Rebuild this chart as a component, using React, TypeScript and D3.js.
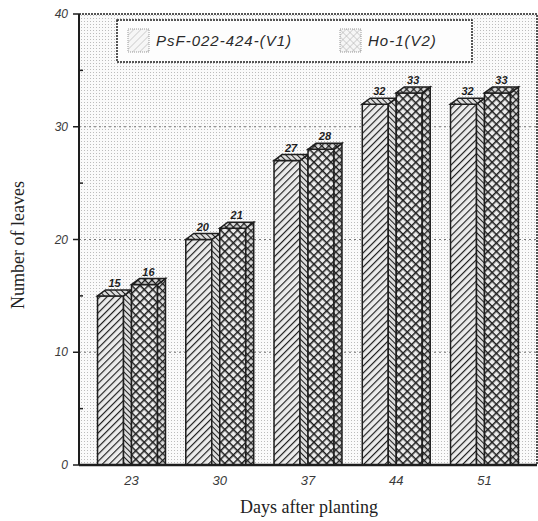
import { useEffect, useRef } from "react"
import * as d3 from "d3"

const days = ["23", "30", "37", "44", "51"]
const v1Values = [15, 20, 27, 32, 32]
const v2Values = [16, 21, 28, 33, 33]
const seriesNames = ["PsF-022-424-(V1)", "Ho-1(V2)"]
const yTicks = [0, 10, 20, 30, 40]
const minorTicks = [5, 15, 25, 35]
const gridTicks = [10, 20, 30]

const width = 538
const height = 521
const margin = { top: 14, right: 1, bottom: 56, left: 79 }

export default function App() {
  const svgRef = useRef<SVGSVGElement | null>(null)

  useEffect(() => {
    if (!svgRef.current) return
    const svg = d3.select(svgRef.current)
    svg.selectAll("*").remove()
    svg.attr("width", width).attr("height", height).attr("viewBox", `0 0 ${width} ${height}`)

    const ink = "#1e1e1e"
    const defs = svg.append("defs")

    // stipple background of the plot area
    const bg = defs.append("pattern").attr("id", "bg").attr("width", 3).attr("height", 3)
      .attr("patternUnits", "userSpaceOnUse")
    bg.append("rect").attr("width", 3).attr("height", 3).attr("fill", "#fafafa")
    bg.append("rect").attr("width", 1).attr("height", 1).attr("fill", "#bcbcbc")

    const hatch = (id: string, angle: number, size: number, stroke: string, sw: number, cross: boolean, fill: string) => {
      const p = defs.append("pattern").attr("id", id).attr("width", size).attr("height", size)
        .attr("patternUnits", "userSpaceOnUse").attr("patternTransform", `rotate(${angle})`)
      p.append("rect").attr("width", size).attr("height", size).attr("fill", fill)
      p.append("line").attr("x1", 0).attr("y1", 0).attr("x2", 0).attr("y2", size)
        .attr("stroke", stroke).attr("stroke-width", sw)
      if (cross) {
        p.append("line").attr("x1", 0).attr("y1", 0).attr("x2", size).attr("y2", 0)
          .attr("stroke", stroke).attr("stroke-width", sw)
      }
    }
    hatch("v1f", 45, 5, ink, 2.3, false, "#ececec")
    hatch("v1s", -45, 4, ink, 2, false, "#dddddd")
    hatch("v2f", 45, 6, ink, 3, true, "#ececec")
    hatch("v2s", 45, 5, ink, 2.6, true, "#dddddd")
    hatch("v1l", 45, 5, "#b0b0b0", 1, false, "#f6f6f6")
    hatch("v2l", 45, 5, "#b0b0b0", 1, true, "#f6f6f6")

    const x = d3.scaleBand<string>().domain(days)
      .range([margin.left, width - margin.right]).paddingInner(0.23).paddingOuter(0.21)
    const depth = 8
    const dy = 6
    const inner = d3.scaleBand<string>().domain(["V1", "V2"]).range([0, x.bandwidth()])
    const frontW = inner.bandwidth() - depth

    const y = d3.scaleLinear().domain([0, 40]).range([height - margin.bottom, margin.top])
    const x0 = margin.left
    const x1 = width - margin.right
    const yBase = y(0)

    svg.append("rect").attr("x", x0).attr("y", y(40)).attr("width", x1 - x0).attr("height", yBase - y(40))
      .attr("fill", "url(#bg)")

    // dotted gridlines
    svg.append("g").selectAll("line").data(gridTicks).join("line")
      .attr("x1", x0).attr("x2", x1).attr("y1", (d) => y(d)).attr("y2", (d) => y(d))
      .attr("stroke", "#777").attr("stroke-width", 1).attr("stroke-dasharray", "2 3")

    // frame: dashed top and right
    svg.append("path")
      .attr("d", `M${x0},${y(40)}H${x1}V${yBase}`)
      .attr("fill", "none").attr("stroke", ink).attr("stroke-width", 1.5).attr("stroke-dasharray", "2 1")

    // bars
    const series = [
      { key: "V1", values: v1Values, front: "url(#v1f)", side: "url(#v1s)" },
      { key: "V2", values: v2Values, front: "url(#v2f)", side: "url(#v2s)" },
    ]
    const barsG = svg.append("g")
    days.forEach((day, i) => {
      series.forEach((s) => {
        const v = s.values[i]
        const bx = (x(day) ?? 0) + (inner(s.key) ?? 0)
        const by = y(v)
        const g = barsG.append("g")
        g.append("rect").attr("x", bx).attr("y", by).attr("width", frontW).attr("height", yBase - by)
          .attr("fill", s.front).attr("stroke", ink).attr("stroke-width", 1.5)
        g.append("path")
          .attr("d", `M${bx + frontW},${yBase}L${bx + frontW + depth},${yBase}L${bx + frontW + depth},${by - dy}L${bx + frontW},${by}Z`)
          .attr("fill", s.side).attr("stroke", ink).attr("stroke-width", 1.5)
        g.append("path")
          .attr("d", `M${bx},${by}L${bx + depth},${by - dy}L${bx + frontW + depth},${by - dy}L${bx + frontW},${by}Z`)
          .attr("fill", s.side).attr("stroke", ink).attr("stroke-width", 1.5)
        g.append("text").text(v)
          .attr("x", bx + (frontW + depth) / 2).attr("y", by - dy - 3)
          .attr("text-anchor", "middle").attr("font-family", "Arial, sans-serif")
          .attr("font-size", 11).attr("font-weight", 700).attr("font-style", "italic").attr("fill", ink)
      })
    })

    // left axis with outward major ticks and inward minor ticks
    svg.append("line").attr("x1", x0).attr("x2", x0).attr("y1", y(40)).attr("y2", yBase)
      .attr("stroke", ink).attr("stroke-width", 2)
    svg.append("g").selectAll("line").data(yTicks).join("line")
      .attr("x1", x0 - 6).attr("x2", x0).attr("y1", (d) => y(d)).attr("y2", (d) => y(d))
      .attr("stroke", ink).attr("stroke-width", 1.5)
    svg.append("g").selectAll("line").data(minorTicks).join("line")
      .attr("x1", x0).attr("x2", x0 + 4).attr("y1", (d) => y(d)).attr("y2", (d) => y(d))
      .attr("stroke", ink).attr("stroke-width", 1.5)
    svg.append("g").selectAll("text").data(yTicks).join("text")
      .text((d) => d)
      .attr("x", 68).attr("y", (d) => y(d) + 4)
      .attr("text-anchor", "end").attr("font-family", "Arial, sans-serif").attr("font-size", 12)
      .attr("font-style", "italic").attr("fill", "#3a3a3a")

    // bottom axis
    svg.append("line").attr("x1", x0).attr("x2", x1).attr("y1", yBase).attr("y2", yBase)
      .attr("stroke", ink).attr("stroke-width", 2.5)
    svg.append("g").selectAll("text").data(days).join("text")
      .text((d) => d)
      .attr("x", (d) => (x(d) ?? 0) + x.bandwidth() / 2).attr("y", yBase + 20)
      .attr("text-anchor", "middle").attr("font-family", "Arial, sans-serif").attr("font-size", 13)
      .attr("font-style", "italic").attr("fill", "#3a3a3a")

    // legend
    const lg = svg.append("g")
    lg.append("rect").attr("x", 117).attr("y", 20).attr("width", 355).attr("height", 42)
      .attr("fill", "#fdfdfd").attr("stroke", ink).attr("stroke-width", 1.5).attr("stroke-dasharray", "2 1")
    const legendItems = [
      { name: seriesNames[0], fill: "url(#v1l)", sx: 128, tx: 156 },
      { name: seriesNames[1], fill: "url(#v2l)", sx: 340, tx: 368 },
    ]
    legendItems.forEach((it) => {
      lg.append("rect").attr("x", it.sx).attr("y", 29).attr("width", 21).attr("height", 23)
        .attr("fill", it.fill).attr("stroke", "#999").attr("stroke-dasharray", "1 1")
      lg.append("text").text(it.name).attr("x", it.tx).attr("y", 46)
        .attr("font-family", "Arial, sans-serif").attr("font-size", 15).attr("font-style", "italic")
        .attr("letter-spacing", 1).attr("fill", "#2a2a2a")
    })

    // axis titles
    svg.append("text").text("Days after planting")
      .attr("x", 309).attr("y", 513).attr("text-anchor", "middle")
      .attr("font-family", "'Liberation Serif', 'Times New Roman', serif").attr("font-size", 18).attr("fill", "#222")
    svg.append("text").text("Number of leaves")
      .attr("transform", `translate(24, 245) rotate(-90)`).attr("text-anchor", "middle")
      .attr("font-family", "'Liberation Serif', 'Times New Roman', serif").attr("font-size", 18).attr("fill", "#222")
  }, [])

  return <svg ref={svgRef} style={{ position: "absolute", left: 0, top: 0, background: "#fff" }} />
}
